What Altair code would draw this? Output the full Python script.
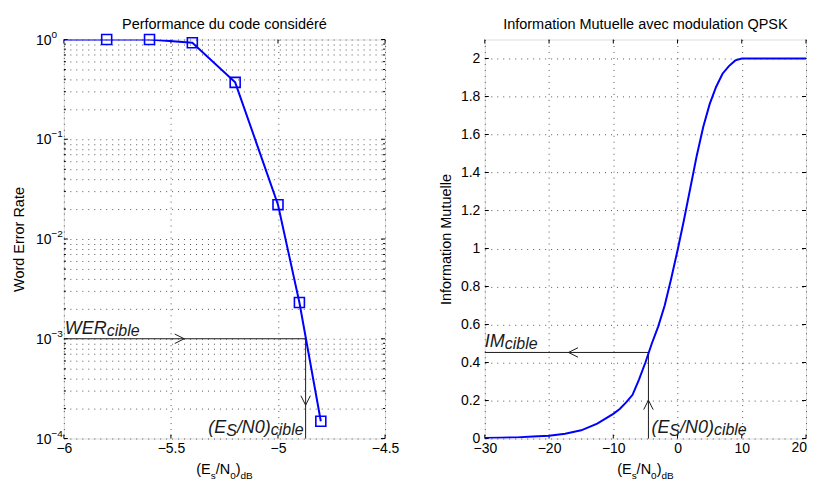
import altair as alt
import pandas as pd

# ---------------- data ----------------
wer_snr = [-6.0, -5.8, -5.6, -5.4, -5.2, -5.0, -4.9, -4.8]
wer_val = [1.0, 1.0, 1.0, 0.927, 0.372, 0.0221, 0.00231, 0.000149]
marker_snr = [-5.8, -5.6, -5.4, -5.2, -5.0, -4.9, -4.8]
marker_val = [1.0, 1.0, 0.927, 0.372, 0.0221, 0.00231, 0.000149]

left_xticks = [-6, -5.5, -5, -4.5]
left_ymajor = [1e-4, 1e-3, 1e-2, 1e-1, 1.0]
left_ybase = ["10", "10", "10", "10", "10"]
left_yexp = ["−4", "−3", "−2", "−1", "0"]
left_yminor = [k * 10.0 ** e for e in range(-4, 0) for k in range(2, 10)]

im_snr = [-30, -27.5, -25, -22.5, -20, -17.5, -15, -12.5, -10, -9, -8, -7, -6, -5, -4,
          -3, -2, -1, 0, 1, 2, 3, 4, 5, 6, 7, 8, 9, 10, 12.5, 15, 17.5, 20]
im_val = [0.003, 0.004, 0.006, 0.010, 0.015, 0.025, 0.043, 0.078, 0.13, 0.155, 0.19, 0.23,
          0.31, 0.40, 0.50, 0.59, 0.70, 0.84, 0.99, 1.15, 1.32, 1.49, 1.64, 1.76, 1.85, 1.92,
          1.96, 1.99, 2.0, 2.0, 2.0, 2.0, 2.0]

right_xticks = [-30, -20, -10, 0, 10, 20]
right_last_label = "20"
right_yticks = [0, 0.2, 0.4, 0.6, 0.8, 1.0, 1.2, 1.4, 1.6, 1.8, 2.0]

wer_target = 1e-3
wer_target_snr = -4.871
left_arrow_x = [-5.46, -4.871]
left_arrow_y = [1e-3, 2.41e-4]
left_arrow_dir = [0, 90]

im_target = 0.453
im_target_snr = -4.53
right_arrow_x = [-16.23, -4.53]
right_arrow_y = [0.453, 0.177]
right_arrow_dir = [180, 270]

title_left = "Performance du code considéré"
title_right = "Information Mutuelle avec modulation QPSK"
ytitle_left = "Word Error Rate"
ytitle_right = "Information Mutuelle"
xtitle_parts = ["(E", "s", "/N", "0", ")", "dB"]
xtitle_sub = [0, 1, 0, 1, 0, 1]
wer_label_parts = ["WER", "cible"]
im_label_parts = ["IM", "cible"]
snr_label_parts = ["(E", "S", "/N0)", "cible"]

# ---------------- styling ----------------
W, H = 322, 400
FONT = "Liberation Sans"
BLUE = "#0000ff"
INK = "#1a1a1a"
FS = 14.5
LFS = 14
BIG, SUB = 18, 16
TICK = 4
LPAD = 3

ARIAL = {"(": .333, ")": .333, "/": .278, "E": .667, "S": .667, "N": .722, "W": .944,
         "R": .722, "I": .278, "M": .833, "B": .667, "0": .556, "1": .556, "s": .5, "d": .556,
         "c": .5, "i": .222, "b": .556, "l": .222, "e": .556}


def tw(s, size):
    return sum(ARIAL.get(ch, 0.556) for ch in s) * size


CHEVRON = "M -1 -1 L 1 0 L -1 1"
MINUS_EXPR = "replace(format(datum.value, '{f}'), '-', '−')"

axis_common = dict(
    grid=True, gridDash=[1, 5], gridColor="#555555", gridWidth=1, gridOpacity=1,
    tickSize=0, domain=False, labelFont=FONT, labelFontSize=LFS, labelColor="black",
    titleFont=FONT, titleFontSize=FS, titleColor="black", titleFontWeight="normal",
)


def pieces_layer(parts, drops, sizes, anchor_x, anchor_y, X, Y, start_dx, base_dy, align_right=False):
    widths = [tw(p, s) for p, s in zip(parts, sizes)]
    total = sum(widths)
    cur = start_dx - total if align_right else start_dx
    layers = []
    for p, d, s, w in zip(parts, drops, sizes, widths):
        df = pd.DataFrame({"x": [anchor_x], "y": [anchor_y], "t": [p]})
        layers.append(
            alt.Chart(df).mark_text(align="left", baseline="alphabetic", dx=cur, dy=base_dy + d,
                                    font=FONT, fontSize=s, fontStyle="italic", color=INK)
            .encode(x=X, y=Y, text="t:N")
        )
        cur += w
    return layers


def xtitle_layers(center_x_px, base_y_px):
    sizes = [FS if s == 0 else 10 for s in xtitle_sub]
    widths = [tw(p, s) for p, s in zip(xtitle_parts, sizes)]
    cur = center_x_px - sum(widths) / 2
    layers = []
    for p, s, sub, w in zip(xtitle_parts, sizes, xtitle_sub, widths):
        df = pd.DataFrame({"t": [p]})
        layers.append(
            alt.Chart(df).mark_text(align="left", baseline="alphabetic", font=FONT, fontSize=s, color="black")
            .encode(x=alt.value(cur), y=alt.value(base_y_px + (4.5 if sub else 0)), text="t:N")
        )
        cur += w
    return layers


def title_layer(text):
    df = pd.DataFrame({"t": [text]})
    return alt.Chart(df).mark_text(align="center", baseline="alphabetic", font=FONT, fontSize=FS,
                                   color="black").encode(x=alt.value(W / 2), y=alt.value(-11), text="t:N")


def xtick_layers(ticks, X):
    df = pd.DataFrame({"x": ticks})
    return [
        alt.Chart(df).mark_rule(color="black", strokeWidth=1).encode(x=X, y=alt.value(H), y2=alt.value(H - TICK)),
        alt.Chart(df).mark_rule(color="black", strokeWidth=1).encode(x=X, y=alt.value(0), y2=alt.value(TICK)),
    ]


def ytick_layers(ticks, Y, length):
    df = pd.DataFrame({"y": ticks})
    return [
        alt.Chart(df).mark_rule(color="black", strokeWidth=1).encode(y=Y, x=alt.value(0), x2=alt.value(length)),
        alt.Chart(df).mark_rule(color="black", strokeWidth=1).encode(y=Y, x=alt.value(W), x2=alt.value(W - length)),
    ]


# ---------------- left panel ----------------
XL = alt.X("x:Q", scale=alt.Scale(domain=[-6, -4.5], nice=False, zero=False),
           axis=alt.Axis(values=left_xticks, labelExpr=MINUS_EXPR.format(f=".1~f"), title=None,
                         labelPadding=LPAD, labelFlush=False, **axis_common))
YL = alt.Y("y:Q", scale=alt.Scale(type="log", domain=[1e-4, 1], nice=False),
           axis=alt.Axis(values=left_ymajor + left_yminor, labels=False,
                         title=ytitle_left, minExtent=28, maxExtent=28, titlePadding=9,
                         **axis_common))

wer_df = pd.DataFrame({"x": wer_snr, "y": wer_val})
mk_df = pd.DataFrame({"x": marker_snr, "y": marker_val})
lref_df = pd.DataFrame({"x": [-6.0, wer_target_snr], "x2": [wer_target_snr, wer_target_snr],
                        "y": [wer_target, wer_target], "y2": [wer_target, 1e-4]})
larrow_df = pd.DataFrame({"x": left_arrow_x, "y": left_arrow_y, "a": left_arrow_dir})
ylab_df = pd.DataFrame({"y": left_ymajor, "b": left_ybase, "e": left_yexp})

l_layers = xtick_layers(left_xticks, XL) + ytick_layers(left_ymajor, YL, TICK) + ytick_layers(left_yminor, YL, 2)
l_layers += [
    alt.Chart(ylab_df).mark_text(align="left", baseline="middle", dy=1, font=FONT, fontSize=LFS, color="black")
    .encode(y=YL, x=alt.value(-28), text="b:N"),
    alt.Chart(ylab_df).mark_text(align="left", baseline="middle", dy=-5, font=FONT, fontSize=10, color="black")
    .encode(y=YL, x=alt.value(-28 + tw("10", LFS)), text="e:N"),
    alt.Chart(lref_df).mark_rule(color=INK, strokeWidth=1).encode(x=XL, x2="x2:Q", y=YL, y2="y2:Q"),
    alt.Chart(larrow_df).mark_point(shape=CHEVRON, filled=False, size=90, color=INK, strokeWidth=1, opacity=1)
    .encode(x=XL, y=YL, angle=alt.Angle("a:Q", scale=None)),
    alt.Chart(wer_df).mark_line(color=BLUE, strokeWidth=2, clip=True).encode(x=XL, y=YL),
    alt.Chart(mk_df).mark_point(shape="square", filled=False, size=100, color=BLUE, strokeWidth=1.6, opacity=1)
    .encode(x=XL, y=YL),
    title_layer(title_left),
]
l_layers += pieces_layer(wer_label_parts, [0, 2], [BIG, SUB], -6.0, wer_target, XL, YL, 1, -4.5)
l_layers += pieces_layer(snr_label_parts, [0, 3, 0, 2], [BIG, SUB, BIG, SUB], wer_target_snr, 1e-4,
                         XL, YL, -2, -6, align_right=True)
l_layers += xtitle_layers(W / 2, H + 36)

left = alt.layer(*l_layers).properties(width=W, height=H)

# ---------------- right panel ----------------
XR = alt.X("x:Q", scale=alt.Scale(domain=[-30, 20], nice=False, zero=False),
           axis=alt.Axis(values=right_xticks,
                         labelExpr=f"datum.value == {right_xticks[-1]} ? '' : " + MINUS_EXPR.format(f="d"),
                         title=None, labelPadding=LPAD, labelFlush=False, **axis_common))
YR = alt.Y("y:Q", scale=alt.Scale(domain=[0, 2.1], nice=False, zero=False),
           axis=alt.Axis(values=right_yticks, format=".1~f", title=ytitle_right, labelPadding=5,
                         minExtent=24, maxExtent=24, titlePadding=7, **axis_common))

im_df = pd.DataFrame({"x": im_snr, "y": im_val})
rref_df = pd.DataFrame({"x": [-30.0, im_target_snr], "x2": [im_target_snr, im_target_snr],
                        "y": [im_target, im_target], "y2": [im_target, 0.0]})
rarrow_df = pd.DataFrame({"x": right_arrow_x, "y": right_arrow_y, "a": right_arrow_dir})
last_lab_df = pd.DataFrame({"x": [right_xticks[-1]], "t": [right_last_label]})

r_layers = xtick_layers(right_xticks, XR) + ytick_layers(right_yticks, YR, TICK)
r_layers += [
    alt.Chart(rref_df).mark_rule(color=INK, strokeWidth=1).encode(x=XR, x2="x2:Q", y=YR, y2="y2:Q"),
    alt.Chart(rarrow_df).mark_point(shape=CHEVRON, filled=False, size=90, color=INK, strokeWidth=1, opacity=1)
    .encode(x=XR, y=YR, angle=alt.Angle("a:Q", scale=None)),
    alt.Chart(im_df).mark_line(color=BLUE, strokeWidth=2, clip=True).encode(x=XR, y=YR),
    alt.Chart(last_lab_df).mark_text(align="right", baseline="top", dx=1, font=FONT, fontSize=LFS, color="black")
    .encode(x=XR, y=alt.value(H + LPAD), text="t:N"),
    title_layer(title_right),
]
r_layers += pieces_layer(im_label_parts, [0, 2], [BIG, SUB], -30.0, im_target, XR, YR, 0, -5)
r_layers += pieces_layer(snr_label_parts, [0, 3, 0, 2], [BIG, SUB, BIG, SUB], im_target_snr, 0.0,
                         XR, YR, 3, -6)
r_layers += xtitle_layers(W / 2, H + 36)

right = alt.layer(*r_layers).properties(width=W, height=H)

chart = (
    alt.hconcat(left, right, spacing=38)
    .properties(padding={"top": 7, "left": 3, "right": 0, "bottom": 0})
    .configure_view(stroke="black", strokeWidth=1.2)
    .configure(background="white")
)

chart.save("out.html", embed_options={"renderer": "svg", "actions": False})
